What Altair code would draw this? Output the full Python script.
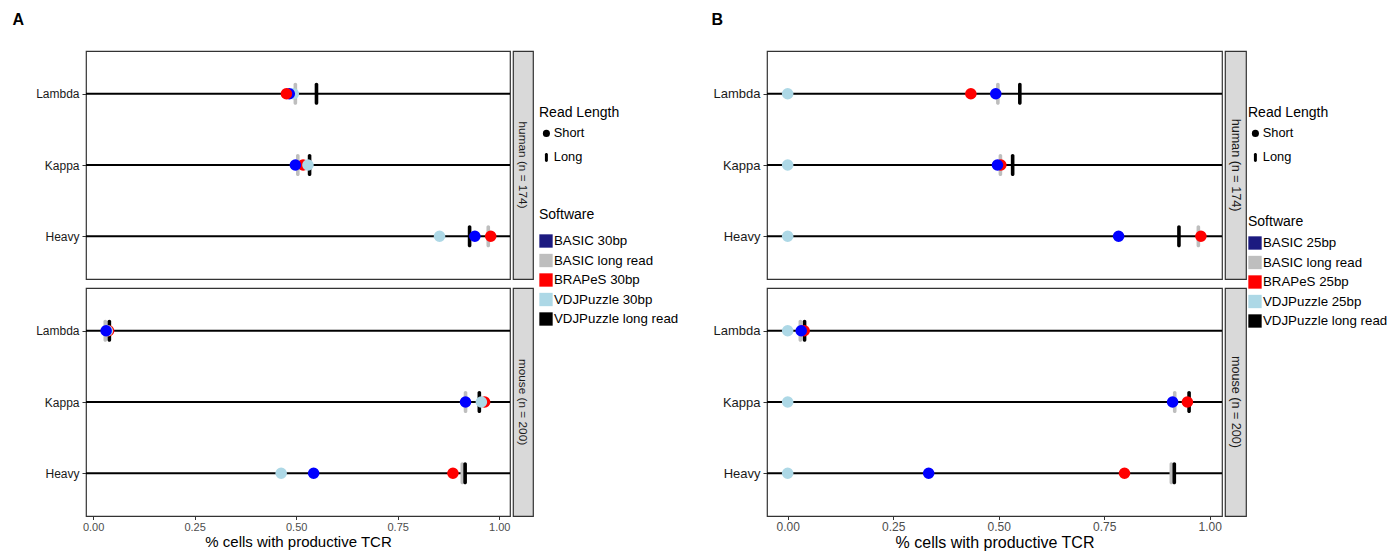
import altair as alt
import pandas as pd

FONT = "Liberation Sans"

categories = ["Lambda", "Kappa", "Heavy"]
species = ["human (n = 174)", "mouse (n = 200)"]
read_lengths = ["Short", "Long"]

softwareA = ["BASIC 30bp", "BASIC long read", "BRAPeS 30bp", "VDJPuzzle 30bp", "VDJPuzzle long read"]
softwareB = ["BASIC 25bp", "BASIC long read", "BRAPeS 25bp", "VDJPuzzle 25bp", "VDJPuzzle long read"]

# values per chain, in the order Lambda, Kappa, Heavy
basic_long_human = [0.498, 0.504, 0.973]
basic_long_mouse = [0.030, 0.917, 0.909]
vdj_long_human = [0.550, 0.533, 0.927]
vdj_long_mouse = [0.040, 0.951, 0.916]

basicA_human = [0.483, 0.498, 0.940]
brapesA_human = [0.476, 0.517, 0.979]
vdjA_human = [0.493, 0.529, 0.853]
basicA_mouse = [0.032, 0.917, 0.543]
brapesA_mouse = [0.038, 0.964, 0.886]
vdjA_mouse = [0.035, 0.956, 0.463]

basicB_human = [0.493, 0.497, 0.784]
brapesB_human = [0.434, 0.505, 0.979]
vdjB_human = [0.0, 0.0, 0.0]
basicB_mouse = [0.032, 0.912, 0.334]
brapesB_mouse = [0.039, 0.947, 0.798]
vdjB_mouse = [0.0, 0.0, 0.0]

FILLS = ["#0000ff", "#bebebe", "#ff0000", "#add8e6", "#000000"]
LEGEND_COLORS = ["#1c1a80", "#bebebe", "#ff0000", "#add8e6", "#000000"]
LEG_BAR = "M-0.42,-0.85 A0.42,0.42 0 0 1 0.42,-0.85 L0.42,0.85 A0.42,0.42 0 0 1 -0.42,0.85 Z"


def build(sw, human, mouse):
    rows = []
    for sp, series in zip(species, [human, mouse]):
        for k, (vals, rl) in enumerate(series):
            for chain, v in zip(categories, vals):
                rows.append({"species": sp, "chain": chain, "software": sw[k],
                             "readlen": rl, "value": v})
    return pd.DataFrame(rows)


dfA = build(softwareA,
            [(basicA_human, "Short"), (basic_long_human, "Long"), (brapesA_human, "Short"),
             (vdjA_human, "Short"), (vdj_long_human, "Long")],
            [(basicA_mouse, "Short"), (basic_long_mouse, "Long"), (brapesA_mouse, "Short"),
             (vdjA_mouse, "Short"), (vdj_long_mouse, "Long")])
dfB = build(softwareB,
            [(basicB_human, "Short"), (basic_long_human, "Long"), (brapesB_human, "Short"),
             (vdjB_human, "Short"), (vdj_long_human, "Long")],
            [(basicB_mouse, "Short"), (basic_long_mouse, "Long"), (brapesB_mouse, "Short"),
             (vdjB_mouse, "Short"), (vdj_long_mouse, "Long")])


def zorder(df, sw, red_on_top=None):
    rank = {sw[2]: 0, sw[3]: 1, sw[0]: 2, sw[1]: 0, sw[4]: 1}
    z = df["software"].map(rank).astype(float)
    if red_on_top is not None:
        m = (df["species"] == red_on_top[0]) & (df["chain"] == red_on_top[1]) & (df["software"] == sw[2])
        z[m] = 3
    df = df.copy()
    df["z"] = z
    return df


dfA = zorder(dfA, softwareA, ("human (n = 174)", "Lambda"))
dfB = zorder(dfB, softwareB)


def panel(df, sw, letter, xdomain, width, strip_w, minext, ylab, xlab, xtitle, stripfs,
          legX, legY1, legY2, tp1, tp2):
    # reversed order keeps this scale's domain distinct from the legend's colour scale
    fill_scale = alt.Scale(domain=sw[::-1], range=FILLS[::-1])
    color_scale = alt.Scale(domain=sw, range=LEGEND_COLORS)
    shape_scale = alt.Scale(domain=read_lengths, range=["circle", LEG_BAR])
    rows = []
    for i, sp in enumerate(species):
        d = df[df["species"] == sp]
        bottom = i == 1
        if bottom:
            xaxis = alt.Axis(values=[0, 0.25, 0.5, 0.75, 1.0], format=".2f",
                             title="% cells with productive TCR", grid=False, domain=False,
                             tickSize=3.5, tickColor="#333333", labelColor="#4d4d4d",
                             labelFontSize=xlab, labelFont=FONT, labelPadding=2,
                             titleFont=FONT, titleFontSize=xtitle, titleFontWeight="normal",
                             titleColor="#000000", titlePadding=2)
        else:
            xaxis = None
        x = alt.X("value:Q", scale=alt.Scale(domain=xdomain, nice=False, zero=False), axis=xaxis)
        y = alt.Y("chain:N", sort=categories,
                  scale=alt.Scale(type="point", padding=0.6, domain=categories),
                  axis=alt.Axis(title=None, grid=False, domain=False, tickSize=4,
                                tickColor="#333333", labelColor="#1a1a1a", labelFontSize=ylab,
                                labelFont=FONT, labelPadding=3, minExtent=minext))
        lines = alt.Chart(pd.DataFrame({"chain": categories})).mark_rule(
            color="black", strokeWidth=1.8).encode(y=y)
        ticks = alt.Chart(d).transform_filter(alt.datum.readlen == "Long").mark_tick(
            thickness=3.6, size=22, cornerRadius=1.8, opacity=1).encode(
            x=x, y=y, fill=alt.Fill("software:N", scale=fill_scale, legend=None),
            order=alt.Order("z:Q"))
        circles = alt.Chart(d).transform_filter(alt.datum.readlen == "Short").mark_circle(
            size=135, opacity=1).encode(
            x=x, y=y, fill=alt.Fill("software:N", scale=fill_scale, legend=None),
            order=alt.Order("z:Q"))
        leg = alt.Chart(d).mark_point(filled=True, opacity=0, size=1).encode(
            x=x, y=y,
            color=alt.Color("software:N", scale=color_scale, legend=alt.Legend(
                title="Software", orient="none", legendX=legX, legendY=legY2,
                symbolType="square", symbolSize=178, symbolStrokeWidth=0, symbolOpacity=1,
                labelFontSize=13.3, labelFont=FONT, labelColor="#000000", labelOffset=1,
                titleFontSize=14, titleFont=FONT, titleFontWeight="normal",
                titleColor="#000000", titlePadding=tp2, rowPadding=5.5, padding=0)),
            shape=alt.Shape("readlen:N", scale=shape_scale, legend=alt.Legend(
                title="Read Length", orient="none", legendX=legX, legendY=legY1,
                symbolSize=50, symbolFillColor="#000000", symbolStrokeColor="#000000",
                symbolStrokeWidth=0, symbolOpacity=1, symbolOffset=1,
                labelFontSize=12.8, labelFont=FONT, labelColor="#000000", labelOffset=1,
                titleFontSize=14, titleFont=FONT, titleFontWeight="normal",
                titleColor="#000000", titlePadding=tp1, rowPadding=10, padding=0)))
        main = alt.layer(lines, ticks, circles, leg).properties(
            width=width, height=228,
            view=alt.ViewBackground(fill="white", stroke="#333333", strokeWidth=1.2))
        strip = alt.Chart(pd.DataFrame({"label": [sp]})).mark_text(
            angle=90, fontSize=stripfs, font=FONT, color="#1a1a1a").encode(
            text="label:N").properties(
            width=strip_w, height=228,
            view=alt.ViewBackground(fill="#d9d9d9", stroke="#333333", strokeWidth=1.2))
        rows.append(alt.hconcat(main, strip, spacing=0))
    return alt.vconcat(*rows, spacing=7).properties(
        title=alt.TitleParams(letter, anchor="start", frame="bounds", fontSize=16,
                              fontWeight="bold", font=FONT, color="#000000", offset=22))


panelA = panel(dfA, softwareA, "A", [-0.0175, 1.0265], 424, 20, 73, 12, 11, 15, 11.8,
               453, 55, 157, 7, 12)
panelB = panel(dfB, softwareB, "B", [-0.049, 1.029], 455, 21, 55, 13, 12, 16, 12.6,
               481, 55, 164, 7, 7)

chart = alt.hconcat(panelA, panelB, spacing=32).resolve_scale(
    color="independent", shape="independent", fill="independent"
).properties(
    padding={"left": 4, "top": 4, "right": 0, "bottom": 0}
).configure_view(strokeWidth=0)

chart.save("out.html", embed_options={"renderer": "svg", "actions": False})
